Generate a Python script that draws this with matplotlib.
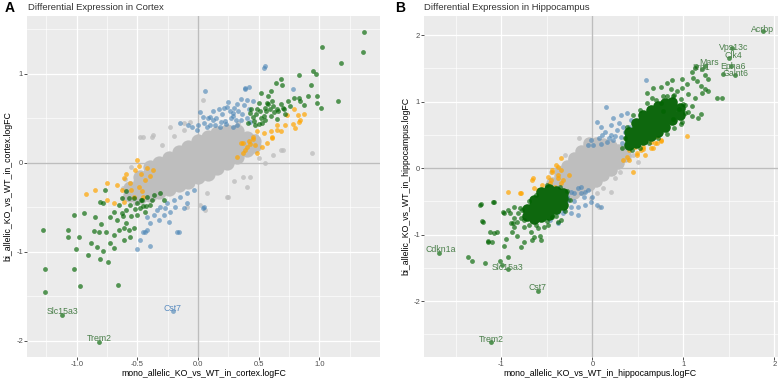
import numpy as np
import matplotlib
matplotlib.use("Agg")
import matplotlib.pyplot as plt

plt.rcParams['font.family'] = ['Liberation Sans', 'DejaVu Sans']

############################################################################
# panel A : cortex  (x = mono allelic logFC, y = bi allelic logFC)

# dense centre of the non significant genes (grey cloud)
a_grey_core_x = [-0.56, -0.56,
                 -0.48, -0.48, -0.48, -0.48,
                 -0.40, -0.40, -0.40, -0.40, -0.40,
                 -0.32, -0.32, -0.32, -0.32, -0.32,
                 -0.24, -0.24, -0.24, -0.24, -0.24,
                 -0.16, -0.16, -0.16, -0.16, -0.16, -0.16,
                 -0.08, -0.08, -0.08, -0.08, -0.08, -0.08,
                 0.00, 0.00, 0.00, 0.00, 0.00, 0.00,
                 0.08, 0.08, 0.08, 0.08, 0.08, 0.08,
                 0.16, 0.16, 0.16, 0.16, 0.16, 0.16,
                 0.24, 0.24, 0.24, 0.24, 0.24, 0.24,
                 0.32, 0.32, 0.32, 0.32, 0.32,
                 0.40, 0.40, 0.40,
                 0.46, 0.46]
a_grey_core_y = [-0.36, -0.28,
                 -0.38, -0.31, -0.22, -0.16,
                 -0.36, -0.29, -0.20, -0.11, -0.05,
                 -0.33, -0.26, -0.17, -0.08, 0.00,
                 -0.29, -0.22, -0.13, -0.04, 0.05,
                 -0.25, -0.18, -0.09, 0.00, 0.08, 0.12,
                 -0.21, -0.14, -0.05, 0.04, 0.13, 0.18,
                 -0.16, -0.09, 0.00, 0.09, 0.18, 0.24,
                 -0.12, -0.05, 0.04, 0.13, 0.22, 0.29,
                 -0.06, 0.01, 0.10, 0.19, 0.28, 0.34,
                 0.00, 0.07, 0.16, 0.25, 0.32, 0.36,
                 0.07, 0.14, 0.23, 0.30, 0.36,
                 0.14, 0.21, 0.28,
                 0.19, 0.25]
# scattered grey genes round the cloud
a_grey_x = [-0.45, -0.38, -0.12, 0.04, 0.94, 0.70, 0.62, 0.68, 0.43, 0.37, 0.25, 0.06,
            0.24, 0.40, 0.07, -0.09, 0.02, -0.48, -0.37, -0.23, -0.12, -0.07, -0.60,
            -0.55, -0.62, 0.50, 0.55, 0.30, -0.20, -0.30, -0.62, -0.52, 0.48, 0.33]
a_grey_y = [0.29, 0.29, 0.37, 0.71, 0.11, 0.15, 0.09, 0.15, -0.16, -0.16, -0.38, -0.53,
            -0.38, -0.27, -0.34, -0.49, -0.47, 0.29, 0.31, 0.40, 0.45, 0.46, -0.18,
            -0.05, -0.40, 0.05, 0.00, -0.20, 0.30, 0.20, -0.28, -0.45, 0.30, 0.45]

a_orange_x = [0.82, 0.87, 0.83, 0.80, 0.78, 0.72, 0.68, 0.65, 0.60, 0.54, 0.49, 0.61,
              0.57, 0.45, 0.43, 0.37, 0.79, 0.84, 0.73, 0.65, 0.61, 0.45, 0.40, 0.35,
              0.49, 0.37, 0.53, 0.32, 0.42, 0.47, 0.39,
              -0.50, -0.49, -0.52, -0.59, -0.61, -0.75, -0.67, -0.85, -0.92, -0.56,
              -0.49, -0.44, -0.46, -0.40, -0.37, -0.45, -0.53, -0.61, -0.69, -0.75, -0.42,
              -0.55, -0.47, -0.63]
a_orange_y = [0.54, 0.55, 0.46, 0.39, 0.44, 0.42, 0.36, 0.42, 0.36, 0.33, 0.36, 0.28,
              0.22, 0.27, 0.21, 0.22, 0.61, 0.48, 0.54, 0.37, 0.29, 0.29, 0.18, 0.22,
              0.11, 0.11, 0.18, 0.07, 0.25, 0.20, 0.14,
              0.03, -0.03, -0.08, -0.13, -0.17, -0.23, -0.25, -0.30, -0.35, -0.23,
              -0.27, -0.19, -0.32, -0.15, -0.08, -0.38, -0.38, -0.44, -0.45, -0.42, -0.06,
              -0.30, -0.12, -0.30]

a_blue_x = [0.54, 0.55, 0.39, 0.42, 0.78, 0.32, 0.29, 0.35, 0.32,
            0.06, 0.02, -0.15, -0.01, 0.12, 0.24, 0.29, 0.18, 0.35, 0.40, 0.39, 0.10,
            0.07, 0.29, 0.23, 0.05, 0.10, 0.15, 0.20, 0.22, 0.27, 0.30, 0.33, 0.36,
            0.25, 0.38, 0.42, 0.17, 0.12, 0.08, 0.00, -0.05, 0.45, 0.40, 0.43,
            0.14, 0.19, 0.26, 0.31, 0.04, -0.08, 0.21,
            -0.16, -0.24, -0.23, -0.28, -0.32, -0.40, -0.42, -0.45, -0.40, -0.50,
            -0.48, -0.34, -0.31, -0.26, -0.20, -0.15, -0.09, -0.03, 0.05, -0.12,
            -0.09, -0.19, -0.27, -0.36, -0.42, 0.04, -0.17, -0.44, -0.21]
a_blue_y = [1.06, 1.09, 0.83, 0.85, 0.83, 0.66, 0.53, 0.72, 0.42,
            0.81, 0.57, 0.45, 0.37, 0.48, 0.63, 0.56, 0.40, 0.48, 0.71, 0.84, 0.52,
            0.40, 0.40, 0.44, 0.45, 0.42, 0.50, 0.55, 0.47, 0.50, 0.62, 0.58, 0.55,
            0.68, 0.65, 0.60, 0.60, 0.58, 0.50, 0.42, 0.40, 0.70, 0.50, 0.46,
            0.43, 0.46, 0.58, 0.48, 0.52, 0.42, 0.62,
            -0.78, -0.66, -0.55, -0.58, -0.64, -0.67, -0.75, -0.78, -0.93, -0.97,
            -0.87, -0.53, -0.49, -0.45, -0.42, -0.38, -0.34, -0.30, -0.49, -0.51,
            -0.45, -0.49, -0.51, -0.58, -0.61, -0.51, -0.78, -0.78, -1.66]

a_green_x = [1.37, 1.36, 1.18, 1.02, 0.95, 0.97, 0.83, 0.93, 0.98, 0.98, 1.01, 1.15,
             0.91, 0.87, 0.83, 0.68, 0.69, 0.64, 0.60, 0.52, 0.58, 0.79, 0.84, 0.74,
             0.70, 0.76, 0.65, 0.62, 0.55, 0.49, 0.43, 0.45, 0.54, 0.60, 0.65, 0.53,
             0.47, 0.41, 0.57, 0.61, 0.68, 0.72, 0.50, 0.46, 0.56, 0.63, 0.52,
             0.48, 0.51, 0.55, 0.59, 0.66, 0.71, 0.44, 0.50, 0.58,
             -1.28, -1.26, -1.26, -1.02, -0.97, -0.66, -1.02, -0.94, -1.07, -1.07,
             -0.98, -1.01, -0.91, -0.81, -0.74, -0.85, -0.80, -0.86, -0.82, -0.76,
             -0.88, -0.83, -0.78, -0.73, -0.69, -0.69, -0.65, -0.61, -0.59, -0.57,
             -0.53, -0.56, -0.61, -0.67, -0.73, -0.78, -0.69, -0.63, -0.59, -0.56,
             -0.50, -0.53, -0.48, -0.44, -0.46, -0.42, -0.40, -0.36, -0.31, -0.28,
             -0.59, -0.63, -0.77, -0.81, -0.65, -0.55, -0.50, -0.45,
             -0.52, -0.47, -0.43, -0.57, -0.62, -0.38,
             -1.12, -0.815]
a_green_y = [1.47, 1.24, 1.12, 1.30, 1.03, 1.00, 0.99, 0.87, 0.75, 0.67, 0.62, 0.69,
             0.75, 0.65, 0.73, 0.94, 0.87, 0.90, 0.81, 0.79, 0.75, 0.73, 0.70, 0.70,
             0.62, 0.64, 0.61, 0.64, 0.62, 0.61, 0.56, 0.51, 0.53, 0.53, 0.49, 0.45,
             0.42, 0.45, 0.67, 0.70, 0.66, 0.55, 0.67, 0.47, 0.58, 0.57, 0.50,
             0.55, 0.58, 0.48, 0.60, 0.58, 0.60, 0.60, 0.44, 0.66,
             -0.75, -1.19, -1.45, -1.19, -1.38, -1.37, -0.58, -0.56, -0.75, -0.83,
             -0.83, -0.97, -1.04, -1.08, -1.11, -0.61, -0.69, -0.76, -0.78, -0.78,
             -0.90, -0.94, -0.99, -0.90, -0.96, -0.81, -0.75, -0.73, -0.68, -0.75,
             -0.73, -0.83, -0.87, -0.64, -0.61, -0.45, -0.55, -0.56, -0.53, -0.47,
             -0.45, -0.39, -0.51, -0.55, -0.42, -0.38, -0.47, -0.36, -0.34, -0.42,
             -0.32, -0.39, -0.30, -0.44, -0.47, -0.60, -0.58, -0.48,
             -0.52, -0.42, -0.48, -0.40, -0.60, -0.42,
             -1.71, -2.01]

a_label_txt = ["Slc15a3", "Trem2", "Cst7"]
a_label_x = [-1.12, -0.815, -0.21]
a_label_y = [-1.67, -1.97, -1.63]
a_label_col = ["green", "green", "blue"]

############################################################################
# panel B : hippocampus

b_grey_core_x = [-0.44, -0.44, -0.44,
                 -0.36, -0.36, -0.36, -0.36, -0.36,
                 -0.28, -0.28, -0.28, -0.28, -0.28, -0.28,
                 -0.20, -0.20, -0.20, -0.20, -0.20, -0.20, -0.20,
                 -0.12, -0.12, -0.12, -0.12, -0.12, -0.12, -0.12,
                 -0.04, -0.04, -0.04, -0.04, -0.04, -0.04, -0.04, -0.04,
                 0.04, 0.04, 0.04, 0.04, 0.04, 0.04, 0.04,
                 0.12, 0.12, 0.12, 0.12, 0.12, 0.12,
                 0.20, 0.20, 0.20, 0.20, 0.20,
                 0.28, 0.28, 0.28,
                 0.36, 0.36]
b_grey_core_y = [-0.40, -0.30, -0.22,
                 -0.42, -0.32, -0.22, -0.12, -0.06,
                 -0.42, -0.32, -0.22, -0.12, -0.02, 0.04,
                 -0.38, -0.28, -0.18, -0.08, 0.02, 0.12, 0.16,
                 -0.32, -0.22, -0.12, -0.02, 0.08, 0.18, 0.26,
                 -0.26, -0.16, -0.06, 0.04, 0.14, 0.24, 0.34, 0.38,
                 -0.20, -0.10, 0.00, 0.10, 0.20, 0.30, 0.38,
                 -0.10, 0.00, 0.10, 0.20, 0.30, 0.36,
                 -0.02, 0.08, 0.18, 0.28, 0.33,
                 0.08, 0.18, 0.28,
                 0.18, 0.26]
b_grey_x = [0.07, 0.05, 0.20, -0.02, 0.12, 0.25, 0.30, -0.30, -0.15, 0.45, 0.50, -0.45]
b_grey_y = [-0.59, -0.38, -0.36, -0.45, -0.30, -0.15, -0.05, 0.20, 0.45, 0.20, 0.10, -0.05]

b_orange_x = [-0.65, -0.44, -0.35, -0.46, -0.38, -0.32, -0.49, -0.60, -0.79, -0.93,
              -0.41, -0.54, -0.35, -0.38, -0.26, -0.78, -0.66, -0.55, -0.49, -0.44,
              -0.40, -0.38, -0.45, -0.53, -0.58, -0.64, -0.40, -0.34, -0.31,
              0.34, 0.38, 0.40, 0.47, 0.53, 0.56, 0.58, 0.67, 0.71, 0.75, 0.80,
              0.45, 0.64, 0.40, 0.49, 1.04, 0.82, 0.75, 0.69, 0.64, 0.56, 0.49, 0.71]
b_orange_y = [-0.15, -0.06, 0.15, -0.23, -0.15, -0.18, -0.33, -0.33, -0.38, -0.36,
              -0.29, -0.41, -0.03, 0.02, -0.11, -0.38, -0.18, -0.26, -0.13, -0.03,
              0.05, -0.11, -0.18, -0.33, -0.44, -0.30, -0.36, -0.23, -0.38,
              0.12, 0.17, 0.27, 0.32, 0.27, 0.32, 0.20, 0.30, 0.38, 0.42, 0.62,
              -0.06, 0.39, 0.12, 0.20, 0.48, 0.63, 0.41, 0.38, 0.30, 0.29, 0.23, 0.48]

b_blue_x = [0.59, 0.15, 0.05, 0.09, 0.14, 0.20, 0.23, 0.31, 0.38, 0.27, 0.31, 0.23,
            0.16, 0.09, 0.01, -0.05, -0.02, 0.11, 0.20, 0.34, 0.38, 0.29, 0.42, 0.33,
            0.36, 0.40, 0.25, 0.18, 0.07,
            -0.32, -0.24, -0.16, -0.13, -0.08, -0.27, -0.35, -0.24, -0.16, -0.32,
            -0.38, -0.46, -0.38, -0.08, 0.05, 0.09, 0.00, -0.52, -0.09, -0.01,
            -0.16, -0.23, -0.31, -0.20, -0.12, -0.05, -0.28, -0.20]
b_blue_y = [1.32, 0.92, 0.69, 0.62, 0.54, 0.65, 0.75, 0.80, 0.83, 0.57, 0.47, 0.42,
            0.39, 0.37, 0.35, 0.35, 0.42, 0.50, 0.50, 0.62, 0.47, 0.68, 0.72, 0.38,
            0.55, 0.62, 0.48, 0.45, 0.45,
            -0.38, -0.36, -0.30, -0.38, -0.36, -0.48, -0.53, -0.59, -0.71, -0.68,
            -0.66, -0.78, -0.83, -0.56, -0.56, -0.59, -0.44, -0.74, -0.44, -0.51,
            -0.59, -0.68, -0.63, -0.38, -0.29, -0.33, -0.43, -0.50]

# dense darkgreen blobs of panel B
b_green_core_x = [0.40, 0.40, 0.40,
                  0.48, 0.48, 0.48, 0.48,
                  0.56, 0.56, 0.56, 0.56, 0.56,
                  0.64, 0.64, 0.64, 0.64, 0.64,
                  0.72, 0.72, 0.72, 0.72, 0.72,
                  0.80, 0.80, 0.80, 0.80, 0.80,
                  0.88, 0.88, 0.88, 0.88,
                  0.96, 0.96,
                  -0.72, -0.72,
                  -0.64, -0.64, -0.64, -0.64,
                  -0.56, -0.56, -0.56, -0.56, -0.56,
                  -0.48, -0.48, -0.48, -0.48, -0.48,
                  -0.40, -0.40, -0.40, -0.40,
                  -0.32, -0.32, -0.32]
b_green_core_y = [0.35, 0.45, 0.55,
                  0.38, 0.48, 0.58, 0.68,
                  0.42, 0.52, 0.62, 0.72, 0.80,
                  0.48, 0.58, 0.68, 0.78, 0.88,
                  0.55, 0.65, 0.75, 0.85, 0.93,
                  0.62, 0.72, 0.82, 0.92, 0.98,
                  0.72, 0.82, 0.92, 1.00,
                  0.80, 0.90,
                  -0.72, -0.62,
                  -0.76, -0.66, -0.56, -0.48,
                  -0.74, -0.64, -0.54, -0.44, -0.36,
                  -0.70, -0.60, -0.50, -0.40, -0.32,
                  -0.62, -0.52, -0.42, -0.34,
                  -0.55, -0.45, -0.38]
b_green_x = [0.88, 0.98, 1.10, 1.13, 1.21, 1.24, 1.27, 1.15, 1.11, 1.19, 1.24, 1.27,
             1.21, 1.04, 0.99, 0.93, 0.86, 0.75, 0.82, 0.89, 0.97, 1.05, 1.13, 1.00,
             1.10, 1.19, 1.16, 1.10, 1.02, 0.95, 0.97, 0.89, 1.37, 1.43, 1.52, 1.44,
             1.57, 1.54, 1.50, 1.88, 1.24, 1.14, 0.82, 0.67, 0.60, 0.75, 0.78,
             0.33, 0.38, 0.45, 0.52, 0.60, 0.70, 0.90, 1.02, 0.98, 0.90, 0.82, 0.72,
             0.62, 0.52, 1.05, 0.66, 0.78, 0.44, 0.36,
             -1.22, -1.08, -1.21, -0.97, -1.13, -1.08, -1.05, -1.15, -1.10, -0.95,
             -0.97, -0.78, -0.86, -0.88, -0.83, -0.75, -0.66, -0.64, -0.58, -0.56,
             -0.67, -0.75, -0.83, -0.89, -0.86, -0.75, -0.60, -0.53, -0.49, -0.44,
             -0.38, -0.34, -0.77, -0.93, -0.86, -1.37, -1.32, -1.18, -1.02, -0.93,
             -0.99, -1.09, -1.23, -0.98, -0.90, -0.87, -1.15, -1.20,
             -0.80, -0.78, -0.70, -0.62, -0.50, -0.40, -0.30, -0.25, -0.28, -0.36,
             -0.50, -0.62, -0.70, -0.82,
             -1.68, -0.93, -0.60, -1.11]
b_green_y = [1.32, 1.34, 1.44, 1.50, 1.49, 1.40, 1.34, 1.31, 1.35, 1.23, 1.19, 1.16,
             1.13, 1.26, 1.20, 1.16, 1.19, 1.22, 1.08, 1.08, 1.04, 1.11, 1.05, 0.96,
             0.93, 0.81, 0.75, 0.78, 0.83, 0.89, 0.66, 0.74, 1.05, 1.05, 1.53, 1.41,
             1.40, 1.80, 1.65, 2.06, 1.53, 1.53, 1.28, 1.20, 1.13, 0.98, 0.86,
             0.30, 0.62, 0.80, 0.88, 0.98, 1.02, 1.10, 0.95, 0.70, 0.60, 0.52, 0.45,
             0.38, 0.30, 0.85, 1.05, 1.08, 0.28, 0.45,
             -0.54, -0.51, -0.80, -0.68, -0.96, -0.98, -0.96, -1.10, -1.11, -1.07,
             -1.17, -1.19, -0.89, -0.96, -1.02, -1.11, -1.08, -1.04, -1.02, -1.08,
             -0.96, -0.89, -0.81, -0.83, -0.75, -0.78, -0.90, -0.89, -0.86, -0.74,
             -0.81, -0.78, -0.63, -0.63, -0.59, -1.34, -1.40, -1.43, -1.40, -1.34,
             -1.46, -0.51, -0.56, -0.66, -0.68, -0.83, -1.11, -0.81,
             -0.60, -0.75, -0.85, -0.85, -0.80, -0.72, -0.65, -0.48, -0.35, -0.28,
             -0.25, -0.40, -0.50, -0.68,
             -1.28, -1.52, -1.85, -2.62]

b_label_txt = ["Acrbp", "Vps13c", "Clk4", "Mars", "Lrp1", "Epha6", "Galnt6",
               "Cdkn1a", "Slc15a3", "Cst7", "Trem2"]
b_label_x = [1.87, 1.55, 1.55, 1.28, 1.20, 1.55, 1.57, -1.67, -0.93, -0.60, -1.11]
b_label_y = [2.09, 1.82, 1.70, 1.59, 1.51, 1.53, 1.43, -1.23, -1.49, -1.80, -2.57]

############################################################################

GREY = "#BEBEBE"
ORANGE = "#FFA500"
BLUE = "#4682B4"
GREEN = "#006400"
LAB_COL = {"green": "#4a7f4a", "blue": "#5b8cc0"}


def panel(ax, xlim, ylim, xmaj, ymaj, xmin, ymin, xfmt, grey_core, core_size, grey,
          orange, blue, green, green_core, labels):
    ax.set_facecolor("#EBEBEB")
    ax.set_xlim(xlim)
    ax.set_ylim(ylim)
    ax.set_xticks(xmaj)
    ax.set_xticklabels([xfmt % v for v in xmaj])
    ax.set_yticks(ymaj)
    ax.set_yticklabels(["%d" % v for v in ymaj])
    ax.set_xticks(xmin, minor=True)
    ax.set_yticks(ymin, minor=True)
    ax.grid(which="major", color="white", lw=0.9)
    ax.grid(which="minor", color="white", lw=0.45)
    ax.set_axisbelow(True)
    for s in ax.spines.values():
        s.set_visible(False)
    ax.tick_params(which="major", length=2, width=0.6, color="#333333",
                   labelsize=5.5, labelcolor="#4D4D4D", pad=0.8)
    ax.tick_params(which="minor", length=0)
    ax.axhline(0, color="#BDBDBD", lw=1.0, zorder=1)
    ax.axvline(0, color="#BDBDBD", lw=1.0, zorder=1)

    ax.scatter(grey_core[0], grey_core[1], s=core_size, color=GREY, lw=0, zorder=2)
    ax.scatter(grey[0], grey[1], s=12, color=GREY, alpha=0.8, lw=0, zorder=2)
    ax.scatter(orange[0], orange[1], s=12, color=ORANGE, alpha=0.7, lw=0, zorder=3)
    ax.scatter(blue[0], blue[1], s=12, color=BLUE, alpha=0.6, lw=0, zorder=3)
    if green_core is not None:
        ax.scatter(green_core[0], green_core[1], s=58, color="#0E680E", lw=0, zorder=4)
    ax.scatter(green[0], green[1], s=12, color=GREEN, alpha=0.65, lw=0, zorder=4)

    for t, x, y, c in zip(*labels):
        ax.text(x, y, t, ha="center", va="center", fontsize=6.3, color=LAB_COL[c], zorder=5)


def main():
    fig = plt.figure(figsize=(7.79, 3.79), dpi=100)
    axA = fig.add_axes([0.0347, 0.058, 0.4531, 0.900])
    axB = fig.add_axes([0.5443, 0.058, 0.4544, 0.900])

    panel(axA, (-1.41, 1.50), (-2.18, 1.65),
          [-1.0, -0.5, 0.0, 0.5, 1.0], [-2, -1, 0, 1],
          [-1.25, -0.75, -0.25, 0.25, 0.75, 1.25], [-1.5, -0.5, 0.5, 1.5], "%.1f",
          (a_grey_core_x, a_grey_core_y), 105, (a_grey_x, a_grey_y),
          (a_orange_x, a_orange_y), (a_blue_x, a_blue_y), (a_green_x, a_green_y), None,
          (a_label_txt, a_label_x, a_label_y, a_label_col))

    panel(axB, (-1.85, 2.04), (-2.84, 2.29),
          [-1, 0, 1, 2], [-2, -1, 0, 1, 2],
          [-1.5, -0.5, 0.5, 1.5], [-2.5, -1.5, -0.5, 0.5, 1.5], "%d",
          (b_grey_core_x, b_grey_core_y), 80, (b_grey_x, b_grey_y),
          (b_orange_x, b_orange_y), (b_blue_x, b_blue_y), (b_green_x, b_green_y),
          (b_green_core_x, b_green_core_y),
          (b_label_txt, b_label_x, b_label_y, ["green"] * len(b_label_txt)))

    # titres, lettres et noms des axes
    fig.text(5 / 779, 1 - 8 / 379, "A", fontsize=10, fontweight="bold", va="center")
    fig.text(395 / 779, 1 - 8 / 379, "B", fontsize=10, fontweight="bold", va="center")
    fig.text(28 / 779, 1 - 7 / 379, "Differential Expression in Cortex", fontsize=6.8,
             color="#333333", va="center")
    fig.text(424 / 779, 1 - 7 / 379, "Differential Expression in Hippocampus", fontsize=6.8,
             color="#333333", va="center")
    fig.text(204 / 779, 1 - 374 / 379, "mono_allelic_KO_vs_WT_in_cortex.logFC", fontsize=6.3,
             ha="center", va="center")
    fig.text(600 / 779, 1 - 374 / 379, "mono_allelic_KO_vs_WT_in_hippocampus.logFC",
             fontsize=6.3, ha="center", va="center")
    fig.text(8 / 779, 1 - 186 / 379, "bi_allelic_KO_vs_WT_in_cortex.logFC", fontsize=6.3,
             rotation=90, ha="center", va="center")
    fig.text(406 / 779, 1 - 186 / 379, "bi_allelic_KO_vs_WT_in_hippocampus.logFC",
             fontsize=6.3, rotation=90, ha="center", va="center")

    fig.savefig("out.png", dpi=100)


main()
